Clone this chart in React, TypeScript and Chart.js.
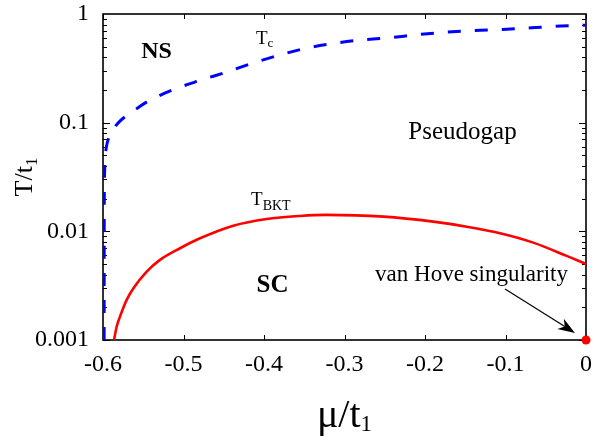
import { useEffect, useRef } from "react";
import { Chart, registerables } from "chart.js";

Chart.register(...registerables);

// Axis ticks
const xTickValues = [-0.6, -0.5, -0.4, -0.3, -0.2, -0.1, 0];
const xTickLabels = ["-0.6", "-0.5", "-0.4", "-0.3", "-0.2", "-0.1", "0"];
const yTickValues = [0.001, 0.01, 0.1, 1];
const yTickLabels = ["0.001", "0.01", "0.1", "1"];

// Mean-field crossover temperature T_c(mu)
const tcMu = [
  -0.5986, -0.5985, -0.5983, -0.598, -0.5975, -0.5965, -0.595, -0.591, -0.585,
  -0.578, -0.568, -0.556, -0.545, -0.5135, -0.4807, -0.4475, -0.4145, -0.3815,
  -0.3482, -0.3128, -0.2797, -0.2435, -0.2099, -0.1747, -0.1399, -0.1035,
  -0.0676, -0.0384, -0.003, 0,
];
const tcT = [
  0.001, 0.01, 0.025, 0.035, 0.045, 0.055, 0.064, 0.078, 0.092, 0.105, 0.12,
  0.138, 0.156, 0.2, 0.2433, 0.2909, 0.352, 0.417, 0.4835, 0.5375, 0.5764,
  0.605, 0.645, 0.679, 0.705, 0.72, 0.746, 0.77, 0.787, 0.79,
];

// Berezinskii-Kosterlitz-Thouless temperature T_BKT(mu)
const bktMu = [
  -0.5863, -0.583, -0.5789, -0.5706, -0.5624, -0.5457, -0.5292, -0.5043,
  -0.4795, -0.4381, -0.3967, -0.3553, -0.3234, -0.2518, -0.1897, -0.1482,
  -0.1068, -0.0655, -0.024, 0,
];
const bktT = [
  0.001, 0.00133, 0.00164, 0.00234, 0.00298, 0.00426, 0.00546, 0.00699,
  0.00863, 0.01128, 0.013, 0.01386, 0.01416, 0.01365, 0.01228, 0.01104,
  0.0096, 0.00787, 0.00594, 0.00501,
];

// van Hove singularity
const vanHoveMu = [0];
const vanHoveT = [0.001];

const SERIF = '"Liberation Serif", "Times New Roman", Times, serif';

type Seg = { text: string; size: number; dy?: number; bold?: boolean };

function drawRich(
  ctx: CanvasRenderingContext2D,
  x: number,
  y: number,
  segs: Seg[],
  align: "left" | "center"
) {
  const fontOf = (s: Seg) => `${s.bold ? "bold " : ""}${s.size}px ${SERIF}`;
  const widths = segs.map((s) => {
    ctx.font = fontOf(s);
    return ctx.measureText(s.text).width;
  });
  const total = widths.reduce((a, b) => a + b, 0);
  let cx = align === "center" ? x - total / 2 : x;
  ctx.textAlign = "left";
  ctx.textBaseline = "alphabetic";
  segs.forEach((s, i) => {
    ctx.font = fontOf(s);
    ctx.fillText(s.text, cx, y + (s.dy || 0));
    cx += widths[i];
  });
}

// Box frame with inward ticks on all four sides
const framePlugin = {
  id: "frameTicks",
  beforeDatasetsDraw(chart: any) {
    const { ctx, chartArea: a, scales } = chart;
    const xs = scales.x;
    const ys = scales.y;
    ctx.save();
    ctx.strokeStyle = "#000";
    ctx.lineWidth = 1;
    ctx.beginPath();
    for (const v of xTickValues) {
      const px = Math.round(xs.getPixelForValue(v)) + 0.5;
      ctx.moveTo(px, a.bottom);
      ctx.lineTo(px, a.bottom - 5);
      ctx.moveTo(px, a.top);
      ctx.lineTo(px, a.top + 5);
    }
    for (let d = -3; d < 0; d++) {
      for (let m = 1; m <= 9; m++) {
        const v = m * Math.pow(10, d);
        const len = m === 1 ? 7 : 4;
        const py = Math.round(ys.getPixelForValue(v)) + 0.5;
        ctx.moveTo(a.left, py);
        ctx.lineTo(a.left + len, py);
        ctx.moveTo(a.right, py);
        ctx.lineTo(a.right - len, py);
      }
    }
    ctx.stroke();
    ctx.lineWidth = 1.6;
    ctx.strokeRect(a.left, a.top, a.right - a.left, a.bottom - a.top);
    ctx.restore();
  },
};

// Region labels, curve labels, axis titles and the arrow
const annotationPlugin = {
  id: "annotations",
  afterDatasetsDraw(chart: any) {
    const { ctx, chartArea: a, scales } = chart;
    const xs = scales.x;
    const ys = scales.y;
    const px = (mu: number) => xs.getPixelForValue(mu);
    const py = (t: number) => ys.getPixelForValue(t);
    ctx.save();
    ctx.fillStyle = "#000";

    drawRich(ctx, px(-0.5335), py(0.391), [{ text: "NS", size: 24, bold: true }], "center");
    drawRich(ctx, px(-0.3894), py(0.00277), [{ text: "SC", size: 25, bold: true }], "center");
    drawRich(ctx, px(-0.1534), py(0.0708), [{ text: "Pseudogap", size: 25 }], "center");
    drawRich(
      ctx,
      px(-0.41),
      py(0.53),
      [
        { text: "T", size: 19 },
        { text: "c", size: 13, dy: 3 },
      ],
      "left"
    );
    drawRich(
      ctx,
      px(-0.4161),
      py(0.0175),
      [
        { text: "T", size: 19 },
        { text: "BKT", size: 14, dy: 5 },
      ],
      "left"
    );
    drawRich(ctx, px(-0.1422), py(0.0035), [{ text: "van Hove singularity", size: 23 }], "center");

    // Arrow pointing at the van Hove singularity
    const x0 = px(-0.1006);
    const y0 = py(0.00295);
    const x1 = px(-0.0137);
    const y1 = py(0.00116);
    const ang = Math.atan2(y1 - y0, x1 - x0);
    const headLen = 17;
    const headHalf = 6;
    const notch = 12;
    const ux = Math.cos(ang);
    const uy = Math.sin(ang);
    ctx.strokeStyle = "#000";
    ctx.lineWidth = 1.2;
    ctx.beginPath();
    ctx.moveTo(x0, y0);
    ctx.lineTo(x1 - ux * notch, y1 - uy * notch);
    ctx.stroke();
    ctx.beginPath();
    ctx.moveTo(x1, y1);
    ctx.lineTo(x1 - ux * headLen - uy * headHalf, y1 - uy * headLen + ux * headHalf);
    ctx.lineTo(x1 - ux * notch, y1 - uy * notch);
    ctx.lineTo(x1 - ux * headLen + uy * headHalf, y1 - uy * headLen - ux * headHalf);
    ctx.closePath();
    ctx.fill();

    // x-axis title: mu/t1
    drawRich(
      ctx,
      (a.left + a.right) / 2,
      427,
      [
        { text: "\u03bc/t", size: 40 },
        { text: "1", size: 23, dy: 4 },
      ],
      "center"
    );

    // y-axis title: T/t1 (rotated)
    ctx.translate(32, (a.top + a.bottom) / 2);
    ctx.rotate(-Math.PI / 2);
    drawRich(
      ctx,
      0,
      0,
      [
        { text: "T/t", size: 26 },
        { text: "1", size: 17, dy: 5 },
      ],
      "center"
    );
    ctx.restore();
  },
};

export default function App() {
  const canvasRef = useRef<HTMLCanvasElement>(null);

  useEffect(() => {
    const canvas = canvasRef.current;
    if (!canvas) return;
    const tickFont = { family: SERIF, size: 24 };
    const chart = new Chart(canvas, {
      type: "line",
      data: {
        datasets: [
          {
            label: "Tc",
            data: tcMu.map((m, i) => ({ x: m, y: tcT[i] })),
            borderColor: "#0000ff",
            borderWidth: 3,
            borderDash: [13, 14],
            pointRadius: 0,
            cubicInterpolationMode: "monotone",
            fill: false,
          },
          {
            label: "TBKT",
            data: bktMu.map((m, i) => ({ x: m, y: bktT[i] })),
            borderColor: "#ff0000",
            borderWidth: 2.6,
            pointRadius: 0,
            cubicInterpolationMode: "monotone",
            fill: false,
          },
          {
            label: "van Hove",
            data: vanHoveMu.map((m, i) => ({ x: m, y: vanHoveT[i] })),
            showLine: false,
            pointRadius: 4.5,
            pointBackgroundColor: "#ff0000",
            pointBorderWidth: 0,
            borderColor: "#ff0000",
            clip: false,
          } as any,
        ],
      },
      options: {
        responsive: false,
        animation: false,
        devicePixelRatio: 1,
        layout: {
          autoPadding: false,
          padding: { top: 14, right: 24, left: 0, bottom: 0 },
        },
        plugins: {
          legend: { display: false },
          tooltip: { enabled: false },
        },
        scales: {
          x: {
            type: "linear",
            min: -0.6,
            max: 0,
            grid: { display: false, drawTicks: false },
            border: { display: false },
            afterBuildTicks: (s: any) => {
              s.ticks = xTickValues.map((v) => ({ value: v }));
            },
            afterFit: (s: any) => {
              s.height = 97;
              s.paddingLeft = 0;
              s.paddingRight = 0;
            },
            ticks: {
              color: "#000",
              font: tickFont,
              padding: 10,
              maxRotation: 0,
              autoSkip: false,
              callback: (_v: any, i: number) => xTickLabels[i],
            },
          },
          y: {
            type: "logarithmic",
            min: 0.001,
            max: 1,
            grid: { display: false, drawTicks: false },
            border: { display: false },
            afterBuildTicks: (s: any) => {
              s.ticks = yTickValues.map((v) => ({ value: v }));
            },
            afterFit: (s: any) => {
              s.width = 103;
              s.paddingTop = 0;
              s.paddingBottom = 0;
            },
            ticks: {
              color: "#000",
              font: tickFont,
              padding: 14,
              autoSkip: false,
              callback: (_v: any, i: number) => yTickLabels[i],
            },
          },
        },
      },
      plugins: [framePlugin, annotationPlugin],
    });
    return () => chart.destroy();
  }, []);

  return (
    <div
      style={{
        position: "fixed",
        left: 0,
        top: 0,
        width: 610,
        height: 437,
        background: "#fff",
      }}
    >
      <canvas
        ref={canvasRef}
        width={610}
        height={437}
        style={{ display: "block", width: 610, height: 437 }}
      />
    </div>
  );
}
